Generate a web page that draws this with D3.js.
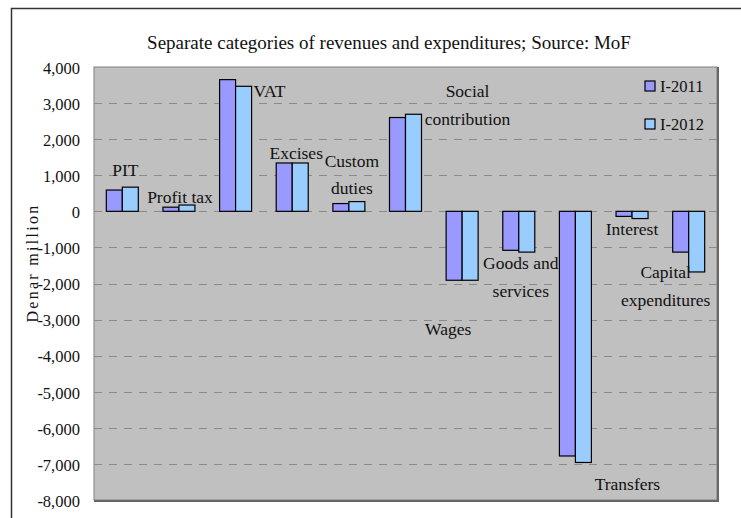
<!DOCTYPE html>
<html>
<head>
<meta charset="utf-8">
<script src="https://cdn.jsdelivr.net/npm/d3@7"></script>
<style>
  body { margin: 0; background: #fff; }
  text { font-family: "Liberation Serif", "Times New Roman", serif; fill: #111; }
</style>
</head>
<body>
<svg id="chart" width="741" height="518"></svg>
<script>
var categories = ["PIT", "Profit tax", "VAT", "Excises", "Custom duties", "Social contribution",
                  "Wages", "Goods and services", "Transfers", "Interest", "Capital expenditures"];
var seriesNames = ["I-2011", "I-2012"];
var values2011 = [590, 115, 3650, 1340, 215, 2600, -1910, -1080, -6780, -140, -1130];
var values2012 = [670, 175, 3465, 1340, 270, 2690, -1910, -1130, -6960, -200, -1680];
var yTicks = [4000, 3000, 2000, 1000, 0, -1000, -2000, -3000, -4000, -5000, -6000, -7000, -8000];

var colors = ["#9999ff", "#99ccff"];

var svg = d3.select("#chart");
var margin = {left: 94, top: 67, right: 717, bottom: 500};

// outer frame
svg.append("path")
    .attr("d", "M11.5,518 L11.5,8.5 L741,8.5")
    .attr("fill", "none")
    .attr("stroke", "#333")
    .attr("stroke-width", 1.5);

var x = d3.scaleBand()
    .domain(categories)
    .range([margin.left, margin.right])
    .padding(0);

var x1 = d3.scaleBand()
    .domain(seriesNames)
    .range([x.bandwidth() * 0.2175, x.bandwidth() * 0.7825])
    .padding(0);

var y = d3.scaleLinear()
    .domain([-8000, 4000])
    .range([margin.bottom, margin.top]);

// plot background
svg.append("rect")
    .attr("x", margin.left)
    .attr("y", margin.top)
    .attr("width", margin.right - margin.left)
    .attr("height", margin.bottom - margin.top)
    .attr("fill", "#c0c0c0")
    .attr("stroke", "#808080")
    .attr("stroke-width", 1);

// grid lines
svg.append("g")
    .selectAll("line")
    .data(yTicks.filter(d => d !== 4000 && d !== -8000))
    .enter()
    .append("line")
    .attr("x1", margin.left)
    .attr("x2", margin.right)
    .attr("y1", d => Math.round(y(d)) + 0.5)
    .attr("y2", d => Math.round(y(d)) + 0.5)
    .attr("stroke", "#8a8a8a")
    .attr("stroke-dasharray", "8,7");

// shadow on right and bottom of plot
svg.append("path")
    .attr("d", `M${margin.right + 1},${margin.top} L${margin.right + 1},${margin.bottom + 1} L${margin.left},${margin.bottom + 1}`)
    .attr("fill", "none")
    .attr("stroke", "#666")
    .attr("stroke-width", 2);

// y axis labels (plain hyphen for negatives, like the original)
var fmt = d3.format(",");
var yAxis = d3.axisLeft(y)
    .tickValues(yTicks)
    .tickSize(0)
    .tickPadding(0)
    .tickFormat(d => fmt(d).replace("\u2212", "-"));

var gy = svg.append("g")
    .attr("transform", `translate(80,0)`)
    .call(yAxis);
gy.select(".domain").remove();
gy.selectAll("text")
    .attr("font-family", "Liberation Serif")
    .attr("font-size", 16.5)
    .attr("fill", "#111")
    .attr("dy", "0.38em");

// bars
var rows = categories.map((c, i) => ({cat: c, vals: [values2011[i], values2012[i]]}));

svg.append("g")
    .selectAll("g")
    .data(rows)
    .enter()
    .append("g")
    .attr("transform", d => `translate(${x(d.cat)},0)`)
    .selectAll("rect")
    .data(d => d.vals.map((v, j) => ({series: seriesNames[j], v: v, j: j})))
    .enter()
    .append("rect")
    .attr("x", d => x1(d.series))
    .attr("y", d => y(Math.max(0, d.v)))
    .attr("width", x1.bandwidth())
    .attr("height", d => Math.abs(y(d.v) - y(0)))
    .attr("fill", d => colors[d.j])
    .attr("stroke", "#000")
    .attr("stroke-width", 1.2);

// category labels placed next to their bars
var labelLayout = [
    {cat: "PIT", lines: ["PIT"], dx: 3, at: 970, anchor: "middle"},
    {cat: "Profit tax", lines: ["Profit tax"], dx: 1, at: 230, anchor: "middle"},
    {cat: "VAT", lines: ["VAT"], dx: 18, at: 3165, anchor: "start"},
    {cat: "Excises", lines: ["Excises"], dx: 4, at: 1450, anchor: "middle"},
    {cat: "Custom duties", lines: ["Custom", "duties"], dx: 3, at: 1230, anchor: "middle"},
    {cat: "Social contribution", lines: ["Social", "contribution"], dx: 62, at: 3160, anchor: "middle"},
    {cat: "Wages", lines: ["Wages"], dx: -14, at: -3425, anchor: "middle"},
    {cat: "Goods and services", lines: ["Goods and", "services"], dx: 2, at: -1600, anchor: "middle"},
    {cat: "Transfers", lines: ["Transfers"], dx: 52, at: -7720, anchor: "middle"},
    {cat: "Interest", lines: ["Interest"], dx: 0, at: -660, anchor: "middle"},
    {cat: "Capital expenditures", lines: ["Capital", "expenditures"], dx: -23, at: -1850, anchor: "middle"}
];

var lbl = svg.append("g")
    .selectAll("text")
    .data(labelLayout)
    .enter()
    .append("text")
    .attr("x", d => x(d.cat) + x.bandwidth() / 2 + d.dx)
    .attr("y", d => y(d.at))
    .attr("text-anchor", d => d.anchor)
    .attr("font-size", 17.5);

lbl.selectAll("tspan")
    .data(d => d.lines.map((t, k) => ({t: t, k: k, xx: x(d.cat) + x.bandwidth() / 2 + d.dx})))
    .enter()
    .append("tspan")
    .attr("x", d => d.xx)
    .attr("dy", d => d.k === 0 ? 0 : 27.5)
    .text(d => d.t);

// legend
var legend = svg.append("g")
    .selectAll("g")
    .data(seriesNames)
    .enter()
    .append("g")
    .attr("transform", (d, i) => `translate(645,${81 + i * 38})`);

legend.append("rect")
    .attr("width", 10)
    .attr("height", 10)
    .attr("fill", (d, i) => colors[i])
    .attr("stroke", "#000")
    .attr("stroke-width", 1.2);

legend.append("text")
    .attr("x", 15)
    .attr("y", 11)
    .attr("font-size", 16.5)
    .text(d => d);

// title
svg.append("text")
    .attr("x", 389)
    .attr("y", 49)
    .attr("text-anchor", "middle")
    .attr("font-size", 19)
    .text("Separate categories of revenues and expenditures; Source: MoF");

// y axis title
svg.append("text")
    .attr("transform", "translate(38,263) rotate(-90)")
    .attr("text-anchor", "middle")
    .attr("font-size", 16)
    .attr("letter-spacing", 2.3)
    .text("Denar million");
</script>
</body>
</html>
